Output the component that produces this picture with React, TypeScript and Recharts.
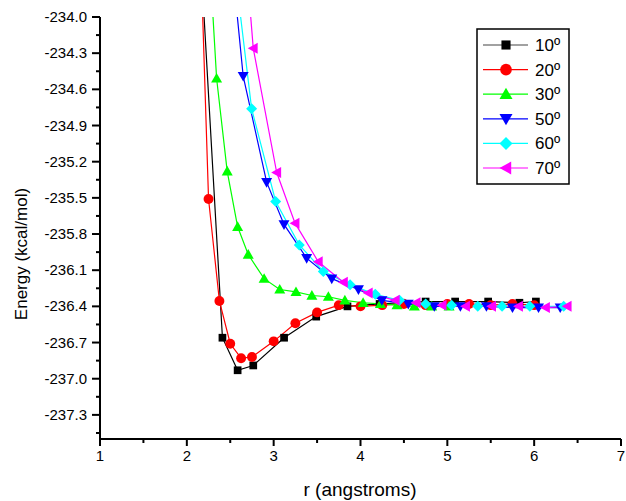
import React from "react"
import { LineChart, Line, XAxis, YAxis } from "recharts"

// energy vs distance, one pair of arrays per angle
const R10 = [2.0, 2.41, 2.585, 2.765, 3.12, 3.49, 3.85, 4.22, 4.47, 4.75, 5.09, 5.47, 5.83, 6.02]
const E10 = [-231.5, -236.66, -236.93, -236.89, -236.66, -236.485, -236.4, -236.38, -236.37, -236.36, -236.36, -236.36, -236.37, -236.36]

const R20 = [2.125, 2.25, 2.375, 2.5, 2.625, 2.75, 3.0, 3.25, 3.5, 3.75, 4.0, 4.25, 4.5, 4.75, 5.0, 5.25, 5.5, 5.75, 6.0]
const E20 = [-232.7, -235.51, -236.355, -236.71, -236.83, -236.82, -236.69, -236.54, -236.45, -236.39, -236.4, -236.39, -236.38, -236.39, -236.38, -236.38, -236.39, -236.38, -236.39]

const R30 = [2.22, 2.343, 2.465, 2.585, 2.707, 2.89, 3.07, 3.257, 3.44, 3.63, 3.82, 4.03, 4.23, 4.42, 4.62, 4.82, 5.02]
const E30 = [-233.0, -234.51, -235.28, -235.74, -235.97, -236.17, -236.26, -236.28, -236.31, -236.32, -236.35, -236.37, -236.38, -236.39, -236.4, -236.4, -236.4]

const R50 = [2.5, 2.649, 2.919, 3.119, 3.38, 3.669, 3.976, 4.246, 4.55, 4.85, 5.15, 5.45, 5.75, 6.05, 6.3]
const E50 = [-233.4, -234.49, -235.37, -235.72, -236.0, -236.17, -236.26, -236.35, -236.38, -236.4, -236.4, -236.4, -236.41, -236.41, -236.41]

const R60 = [2.47, 2.746, 3.023, 3.295, 3.572, 3.88, 4.17, 4.45, 4.75, 5.05, 5.35, 5.63, 5.95, 6.34]
const E60 = [-233.1, -234.76, -235.53, -235.89, -236.11, -236.22, -236.3, -236.35, -236.38, -236.39, -236.4, -236.4, -236.4, -236.4]

const R70 = [2.5, 2.765, 3.035, 3.246, 3.514, 3.803, 4.09, 4.4, 4.64, 4.94, 5.21, 5.51, 5.82, 6.13, 6.38]
const E70 = [-231.9, -234.26, -235.29, -235.71, -236.03, -236.2, -236.29, -236.35, -236.37, -236.39, -236.4, -236.4, -236.4, -236.41, -236.4]

const X_MAJOR = [1, 2, 3, 4, 5, 6, 7]
const X_MINOR = [1.5, 2.5, 3.5, 4.5, 5.5, 6.5]
const Y_MAJOR = [-234.0, -234.3, -234.6, -234.9, -235.2, -235.5, -235.8, -236.1, -236.4, -236.7, -237.0, -237.3]
const Y_MINOR = [-234.15, -234.45, -234.75, -235.05, -235.35, -235.65, -235.95, -236.25, -236.55, -236.85, -237.15, -237.45]

const Y_TOP = -234.0
const Y_BOTTOM = -237.5

const zip = (rs: number[], es: number[]) => rs.map((r, i) => ({ r, e: es[i] }))

type Marker = "square" | "circle" | "up" | "down" | "diamond" | "left"

const SERIES: { name: string; color: string; legendLine: string; marker: Marker; data: { r: number; e: number }[] }[] = [
  { name: "10º", color: "#000000", legendLine: "#444444", marker: "square", data: zip(R10, E10) },
  { name: "20º", color: "#ff0000", legendLine: "#ff0000", marker: "circle", data: zip(R20, E20) },
  { name: "30º", color: "#00ff00", legendLine: "#00ff00", marker: "up", data: zip(R30, E30) },
  { name: "50º", color: "#0000ff", legendLine: "#0000ff", marker: "down", data: zip(R50, E50) },
  { name: "60º", color: "#00ffff", legendLine: "#00ffff", marker: "diamond", data: zip(R60, E60) },
  { name: "70º", color: "#ff00ff", legendLine: "#ff00ff", marker: "left", data: zip(R70, E70) },
]

const FONT = "'Liberation Sans', Arial, sans-serif"

function markerShape(kind: Marker, cx: number, cy: number, s: number, color: string, key?: any) {
  switch (kind) {
    case "square":
      return <rect key={key} x={cx - s * 0.7} y={cy - s * 0.7} width={s * 1.4} height={s * 1.4} fill={color} />
    case "circle":
      return <circle key={key} cx={cx} cy={cy} r={s * 0.9} fill={color} />
    case "up":
      return <polygon key={key} points={`${cx},${cy - s} ${cx - s},${cy + s * 0.75} ${cx + s},${cy + s * 0.75}`} fill={color} />
    case "down":
      return <polygon key={key} points={`${cx - s},${cy - s * 0.75} ${cx + s},${cy - s * 0.75} ${cx},${cy + s}`} fill={color} />
    case "diamond":
      return <polygon key={key} points={`${cx},${cy - s} ${cx + s},${cy} ${cx},${cy + s} ${cx - s},${cy}`} fill={color} />
    default:
      return <polygon key={key} points={`${cx - s},${cy} ${cx + s * 0.8},${cy - s} ${cx + s * 0.8},${cy + s}`} fill={color} />
  }
}

const isMajor = (list: number[], v: number) => list.some((m) => Math.abs(m - v) < 1e-6)

function YTick(props: any) {
  const { x, y, payload } = props
  const major = isMajor(Y_MAJOR, payload.value)
  return (
    <g>
      <line x1={x - (major ? 8 : 4)} x2={x} y1={y} y2={y} stroke="#000" strokeWidth={2} />
      {major && (
        <text x={x - 13} y={y + 5} textAnchor="end" fontSize={15} fontFamily={FONT} fill="#000">
          {payload.value.toFixed(1)}
        </text>
      )}
    </g>
  )
}

function XTick(props: any) {
  const { x, y, payload } = props
  const major = isMajor(X_MAJOR, payload.value)
  return (
    <g>
      <line x1={x} x2={x} y1={y} y2={y + (major ? 7 : 4)} stroke="#000" strokeWidth={2} />
      {major && (
        <text x={x} y={y + 22} textAnchor="middle" fontSize={15} fontFamily={FONT} fill="#000">
          {payload.value}
        </text>
      )}
    </g>
  )
}

function LegendBox() {
  return (
    <svg width={94} height={157} style={{ position: "absolute", left: 476, top: 28 }}>
      <rect x={1} y={1} width={92} height={155} fill="#fff" stroke="#000" strokeWidth={1.5} />
      {SERIES.map((s, i) => {
        const cy = 17 + i * 24.6
        return (
          <g key={s.name}>
            <line x1={7} x2={52} y1={cy} y2={cy} stroke={s.legendLine} strokeWidth={1.2} />
            {markerShape(s.marker, 30, cy, 6.5, s.color)}
            <text x={59} y={cy + 6} fontSize={17} fontFamily={FONT} fill="#000">
              {s.name}
            </text>
          </g>
        )
      })}
    </svg>
  )
}

export default function App() {
  return (
    <div style={{ position: "absolute", left: 0, top: 0, width: 626, height: 501, background: "#fff" }}>
      <LineChart width={626} height={501} margin={{ top: 17, right: 5, bottom: 0, left: 0 }}>
        <XAxis
          type="number"
          dataKey="r"
          domain={[1, 7]}
          ticks={[...X_MAJOR, ...X_MINOR].sort((a, b) => a - b)}
          interval={0}
          allowDataOverflow
          height={62}
          tickSize={0}
          tickMargin={0}
          tickLine={false}
          tick={<XTick />}
          stroke="#000"
          axisLine={{ stroke: "#000", strokeWidth: 2 }}
          label={{
            content: () => (
              <text x={360} y={496} textAnchor="middle" fontSize={19} fontFamily={FONT} fill="#000">
                r (angstroms)
              </text>
            ),
          }}
        />
        <YAxis
          type="number"
          domain={[Y_BOTTOM, Y_TOP]}
          ticks={[...Y_MAJOR, ...Y_MINOR].sort((a, b) => b - a)}
          interval={0}
          allowDataOverflow
          width={100}
          tickSize={0}
          tickMargin={0}
          tickLine={false}
          tick={<YTick />}
          stroke="#000"
          axisLine={{ stroke: "#000", strokeWidth: 2 }}
          label={{
            content: () => (
              <text
                x={27}
                y={254}
                transform="rotate(-90 27 254)"
                textAnchor="middle"
                fontSize={17}
                fontFamily={FONT}
                fill="#000"
              >
                Energy (kcal/mol)
              </text>
            ),
          }}
        />
        {SERIES.map((s) => (
          <Line
            key={s.name}
            data={s.data}
            dataKey="e"
            name={s.name}
            type="linear"
            stroke={s.color}
            strokeWidth={1.2}
            isAnimationActive={false}
            dot={(p: any) =>
              p.value > Y_TOP ? <g key={p.index} /> : markerShape(s.marker, p.cx, p.cy, 5.5, s.color, p.index)
            }
            activeDot={false}
          />
        ))}
      </LineChart>
      <LegendBox />
    </div>
  )
}
